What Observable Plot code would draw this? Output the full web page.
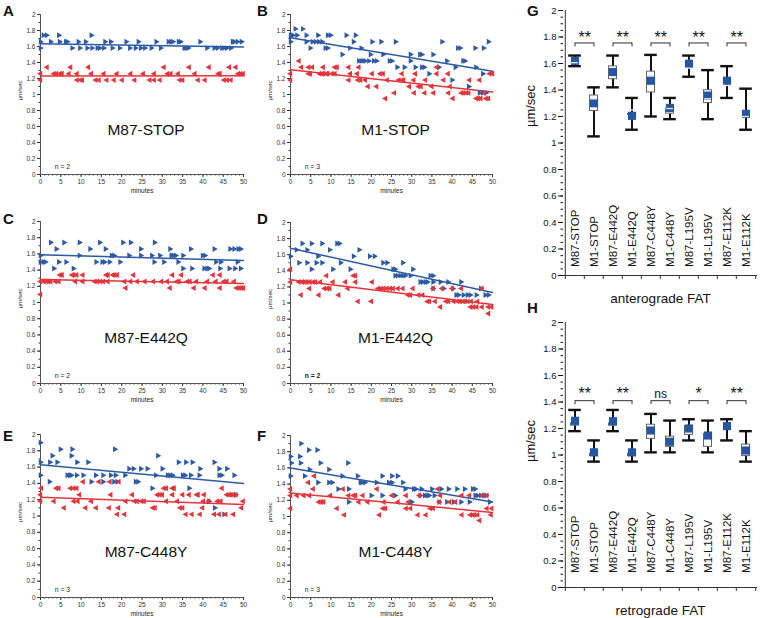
<!DOCTYPE html>
<html><head><meta charset="utf-8">
<script src="https://cdn.jsdelivr.net/npm/d3@7"></script>
<script src="https://cdn.jsdelivr.net/npm/@observablehq/plot@0.6"></script>
<style>
body{margin:0;background:#fff;font-family:"Liberation Sans",Arial,Helvetica,sans-serif;}
#fig{position:relative;width:760px;height:618px;overflow:hidden;background:#fff;}
.letter{position:absolute;font-weight:bold;font-size:15px;line-height:15px;color:#111;}
</style></head><body><div id="fig"></div>
<script>
// ---------- DATA: scatter panels, [speed level (µm/sec), minutes[]] ----------
const antA = [
 [1.74,[0.7,1.5,4.5,12.5]],
 [1.66,[0,2.5,4.7,6.2,6.6,9.3,11.1,15.9,17.3,21.1,24.1,28.5,31.5,32.1,32.6,34,34.5,39.3,47.3,47.7,48.5,49.5]],
 [1.58,[0,7.8,9.7,11.5,12.7,14,14.6,15.6,17.7,19.5,22,23.4,24.7,25.7,27.3,29.6,35.4,35.9,36.4,41,42.8,43.6,44.7,45.2,45.9,46.9]]
];
const retA = [
 [1.34,[1.6,7.4,11.8,30.4,36.6,41.5,46.5,48.1]],
 [1.26,[0,3.3,3.9,4.8,5.3,7,9,12.5,15.6,18.8,22.2,25.3,28,31.3,32.1,33.9,38,43.8,44.2,48.7,49.3,49.9]],
 [1.18,[0,9,9.9,10.3,13.6,14.4,16.3,18.1,20.1,23.2,26.9,28,29.4,34.3,35,38.8,40.5,45.2,46,46.9]]
];
const antB = [
 [1.82,[1.2,3.0]],
 [1.74,[0,0.6,1.6,3.9,6.8,9.2,9.9,13.8,16.1]],
 [1.66,[0,3.9,5.4,6.2,7.0,7.8,15.6,20.2,22.4,26,37.5,49]],
 [1.58,[4.9,8.6,9.2,14.7,17.5,41.4,42,45.7,47.8]],
 [1.50,[12.8,19.8,22.9,29.7,32,32.5,35.3]],
 [1.42,[16.9,17.5,18,18.5,19.4,20.6,21.3,24.5,25.1,29.7,38.7,42.7,43.2]],
 [1.34,[26.4,28.2,30.9,32.5,33.1,36.7,40.8,45.9]],
 [1.26,[34.3,47.6]],
 [1.18,[40]],
 [1.10,[44.1]],
 [1.02,[46.8,47.6,48.4]]
];
const retB = [
 [1.42,[2.1]],
 [1.34,[2.7,4.5,5.4,8.1,11,11.5,14.4,16.9,36.2]],
 [1.26,[0,4.5,4.9,7.2,7.8,8.2,8.9,9.2,10.3,11,14.8,16.5,20.2,22.2,22.9,27.6,30.9,36.2,39,49.3,50]],
 [1.18,[0,14.4,16.7,17.3,18.5,23.9,26.8,27.6,28,30.5,33.4,37.9,44.3,46.8]],
 [1.10,[19.2,21.3,29.4,31.7,32.3,35,39.5]],
 [1.02,[25.7,30.6,33.2,35.4,39.1,42.3,42.8,43.5,44.1,48]],
 [0.95,[23.5,40.2,46,46.5,47.1,48.4,49]]
];
const antC = [
 [1.74,[2.5,5.8,9.6,14.6,20.3,22.2,28.1]],
 [1.66,[3.9,12.2,16,24.7,31.9,37,42.8,46.7,47.7,48.7,49.3]],
 [1.58,[0,9.6,17.5,18.1,21.8,24.7,27.4,29.4,32.2,32.7,33.3,35.1,39.9,40.5]],
 [1.50,[0,0.7,1.2,4.5,6.3,13.7,15.2,15.8,17,19.6,28,30.4,33.9,43.2,44.4,48.5]],
 [1.42,[3.3,8.1,35.1,37.3,40.3,41,41.5,44.2,46.5,47.9,49.3]]
];
const retC = [
 [1.34,[4.8,5.3,7.8,8.2,8.9,10.4,16.2,16.6,17.8,18.3,18.9,22.9,32.5,34.7,42.5,44.2]],
 [1.26,[0,0.8,1.4,1.9,2.5,3.7,4.5,8.6,10.4,13.4,14,14.8,15.5,16.6,20.7,22.2,23.8,25.7,27.8,29.8,31.2,33.6,34.1,36.2,36.8,38.4,41.1,43.2,45.2,45.9,47.7]],
 [1.18,[21,31.9,37.8,40.5,44.2,48.3,48.9,49.5,50]],
 [1.10,[0]]
];
const antD = [
 [1.74,[2.9,5.2,7.8,11.5,12.1]],
 [1.66,[1.5,4.1,9.7,17]],
 [1.58,[0,6.8,15.6,19.6,20.8]],
 [1.50,[2.1,4.1,6.4,7.8,12.4,22.9,23.9,27.8]],
 [1.42,[5.2,10.5,14.8,25.4,25.9,30.3]],
 [1.34,[25.9,26.5,27.2,27.8,28.4,29.7,34.6,35.3]],
 [1.26,[32.1,32.7,33.4,33.9,35.3,37.1,39,42.2]],
 [1.18,[35.3,37.9,40.2,47.1]],
 [1.10,[41,41.6,42.8,43.8,44.5,46,48.2,49]]
];
const retD = [
 [1.42,[0]],
 [1.34,[8.9,15.6,16.1]],
 [1.26,[0,2.1,2.9,3.5,4.1,4.8,5.6,6.2,7.4,10.5,13.6,16.1,20.2]],
 [1.18,[4.7,8.4,9.1,9.7,14.2,21.7,22.4,23.1,23.9,24.7,25.4,26.6,27.8,30.3,35.3,37.5,40,42.3,47.4]],
 [1.10,[2.6,7,11.9,29.1,29.7,31.7,32.7]],
 [1.02,[16.7,20,33.9,34.4,35.8,38.5,39.1,40.4,41.4,42,42.7,43.2,43.9,44.7,46.3]],
 [0.95,[37.1,44.6,45.3,46.1,47.4,49,49.8]],
 [0.87,[49]]
];
const antE = [
 [1.90,[0]],
 [1.82,[4.9,7.8,18.3]],
 [1.74,[2.9,7.6,28.9]],
 [1.66,[0,2.3,4.1,9,11.7,34,35.8,37.4,42.8]],
 [1.58,[21.8,22.9,24.7,26.3,30,39.3,44,45.9]],
 [1.50,[0,6.6,7.2,7.6,8.9,10.5,13.6,15.4,17.3,18.5,20.8,28.4,31.3,31.9,32.5,35,35.6,37,39.1,44,44.6,47.7]],
 [1.42,[2.2,12.5,15.4,18.1,18.9,23.4,24]],
 [1.34,[27.5,36.6]],
 [1.26,[48.1]],
 [1.18,[41.5]],
 [1.10,[42.9]],
 [1.02,[45.2]]
];
const retE = [
 [1.42,[10.5,14.4,17.1,19.3]],
 [1.34,[0.2,3.9,4.5,7.4,8.2,8.9,30.4,31,32.5,32.9,44.7]],
 [1.26,[0,9.6,17.3,22.6,28.8,29.4,30,32.5,35,36.6,38.5,38.8,40.3,45.9,46.5,46.9,47.5,48.1]],
 [1.18,[0,3.3,8.2,9.2,12.5,21,23.2,23.8,24.9,25.5,31,33.7,40.1,41.4,43.6,44.4,49.9]],
 [1.10,[5.8,11.1,13.7,16.9,19.2,27.7,28.2,34.4,35,39.9,49.5]],
 [1.02,[18.9,20.7,35.8,37.3,39.3,42.8,44,45.6,47.5]]
];
const antF = [
 [1.90,[2.6]],
 [1.82,[4.5,6.6]],
 [1.74,[0,2.3]],
 [1.66,[0.2,2.5,7.4,14.2]],
 [1.58,[4.7,9.5]],
 [1.50,[0,3.5,12.8,16.6,22.7,25.1,26.5]],
 [1.42,[6.8,9.5,10.3,17.3,17.7,18.4,21.3,24.3,25.1,27.8]],
 [1.34,[11.8,14.4,28.4,30.5,31,32.4,35,37.3,39.1,41.2,43.1,45.1,45.7]],
 [1.26,[20,22.7,25.9,32.1,33.2,33.8,34.3,35.6,45.7,46.3,47.1,47.8,48.4]],
 [1.18,[14.4,30,36.8,38.7,40.4,42.2,44.3,49.3]]
];
const retF = [
 [1.50,[5.9]],
 [1.42,[4.4]],
 [1.34,[0,5.6,13,21.4,36.5]],
 [1.26,[0,1.6,3.3,4.7,9.9,14.4,15.6,16.1,17.9,25.1,28.6,31.9,37.1,42.4,44.3,47.5,48.6]],
 [1.18,[7,7.6,8.2,16.9,19.1,23.1,26.6,29.2,36.8,39.4,40.8]],
 [1.10,[0,11.5,22.9,23.5,28.6,29.7,34.6,35.3,48.6,49.8]],
 [1.02,[13.3,22,31.5,33.5,42.4,44.5,45.1,45.6,46.3,49.6]],
 [0.95,[46.8]]
];
// fitted lines: value at 0 min and at 50 min
const fitMinutes = [0, 50];
const fitAntA = [1.635, 1.595], fitRetA = [1.23, 1.235];
const fitAntB = [1.71, 1.29],   fitRetB = [1.31, 1.03];
const fitAntC = [1.59, 1.52],   fitRetC = [1.285, 1.235];
const fitAntD = [1.68, 1.13],   fitRetD = [1.29, 0.98];
const fitAntE = [1.63, 1.40],   fitRetE = [1.23, 1.14];
const fitAntF = [1.60, 1.18],   fitRetF = [1.29, 1.05];
const panelNames = ["M87-STOP","M1-STOP","M87-E442Q","M1-E442Q","M87-C448Y","M1-C448Y"];
const panelN = ["n = 2","n = 3","n = 2","n = 2","n = 3","n = 3"];

// ---------- DATA: box panels ----------
const cats = ["M87-STOP","M1-STOP","M87-E442Q","M1-E442Q","M87-C448Y","M1-C448Y","M87-L195V","M1-L195V","M87-E112K","M1-E112K"];
const gLo   = [1.58, 1.05, 1.42, 1.10, 1.20, 1.18, 1.50, 1.18, 1.34, 1.10];
const gQ1   = [1.58, 1.20, 1.44, 1.17, 1.34, 1.18, 1.56, 1.26, 1.43, 1.18];
const gQ3   = [1.66, 1.40, 1.62, 1.26, 1.58, 1.30, 1.64, 1.44, 1.50, 1.26];
const gHi   = [1.66, 1.42, 1.66, 1.34, 1.665, 1.34, 1.66, 1.55, 1.58, 1.41];
const gMean = [1.62, 1.30, 1.535, 1.205, 1.47, 1.265, 1.598, 1.358, 1.47, 1.22];
const gMed  = [1.606, 1.334, 1.50, 1.25, 1.51, 1.26, 1.565, 1.334, 1.434, 1.20];
const gSig  = ["**","**","**","**","**"];
const hLo   = [1.18, 0.95, 1.18, 0.95, 1.02, 1.02, 1.11, 1.02, 1.11, 0.95];
const hQ1   = [1.18, 0.95, 1.18, 0.95, 1.08, 1.02, 1.11, 1.02, 1.18, 0.95];
const hQ3   = [1.28, 1.05, 1.28, 1.05, 1.27, 1.18, 1.26, 1.20, 1.26, 1.12];
const hHi   = [1.34, 1.11, 1.34, 1.11, 1.31, 1.26, 1.27, 1.26, 1.27, 1.18];
const hMean = [1.258, 1.02, 1.255, 1.02, 1.185, 1.10, 1.20, 1.147, 1.218, 1.034];
const hSig  = ["**","**","ns","*","**"];
const yTickVals = d3.range(0, 11).map(i => i / 5);

// ---------- DRAWING ----------
const BLUE = "#2d5aa5", RED = "#e3353b", BOXBLUE = "#2456a2";
const FONT = "'Liberation Sans', Arial, Helvetica, sans-serif";
const fig = document.getElementById("fig");
const fmt = d => String(+(+d).toFixed(2));
function place(node, left, top) {
  node.style.position = "absolute";
  node.style.left = left + "px";
  node.style.top = top + "px";
  fig.appendChild(node);
}
const expand = levels => levels.flatMap(([v, ms]) => ms.map(m => ({m, v})));
const fitRows = f => f.map((v, i) => ({m: fitMinutes[i], v}));

function scatter({x0, y0, w, h, ant, ret, fitAnt, fitRet, name, n, nBold}) {
  const mL = 34, mR = 8, mT = 6, mB = 24;
  const chart = Plot.plot({
    width: w + mL + mR, height: h + mT + mB,
    marginLeft: mL, marginRight: mR, marginTop: mT, marginBottom: mB,
    style: {fontFamily: FONT, fontSize: "6.5px", color: "#333", background: "transparent", overflow: "visible"},
    x: {domain: [0, 50]},
    y: {domain: [0, 2]},
    marks: [
      Plot.axisX({ticks: d3.range(0, 51, 5), tickSize: 3, tickPadding: 1.5, tickFormat: fmt, label: null}),
      Plot.axisX({ticks: d3.range(0, 51, 1), tickSize: 1.5, tickFormat: () => "", label: null}),
      Plot.axisY({ticks: yTickVals, tickSize: 3, tickPadding: 2, tickFormat: fmt, label: null}),
      Plot.axisY({ticks: d3.range(0, 21).map(i => i / 10), tickSize: 1.5, tickFormat: () => "", label: null}),
      Plot.ruleX([0], {stroke: "#555"}),
      Plot.ruleY([0], {stroke: "#555"}),
      Plot.text(["minutes"], {frameAnchor: "bottom", dy: 16.5, lineAnchor: "middle", fontSize: 6.5, fill: "#222"}),
      Plot.text(["µm/sec"], {frameAnchor: "left", dx: -20, dy: -4, rotate: -90, textAnchor: "middle", lineAnchor: "middle", fontSize: 6.2, fill: "#222"}),
      Plot.line(fitRows(fitAnt), {x: "m", y: "v", stroke: BLUE, strokeWidth: 1.5}),
      Plot.line(fitRows(fitRet), {x: "m", y: "v", stroke: RED, strokeWidth: 1.5}),
      Plot.dot(expand(ant), {x: "m", y: "v", symbol: "triangle", rotate: 90, r: 2.2, fill: BLUE}),
      Plot.dot(expand(ret), {x: "m", y: "v", symbol: "triangle", rotate: -90, r: 2.2, fill: RED}),
      Plot.text([name], {x: 26, y: 0.56, fontSize: 15.5, fill: "#111"}),
      Plot.text([n], {x: 3.5, y: 0.09, textAnchor: "start", fontSize: 6.8, fill: "#222", fontWeight: nBold ? "bold" : "normal"})
    ]
  });
  place(chart, x0 - mL, y0 - mT);
}

function boxPanel({x0, y0, w, h, lo, q1, q3, hi, mean, med, sig, bracketY, sigY, catY, title, labelDy}) {
  const mL = 44, mR = 3, mT = 8, mB = 36;
  const rows = cats.map((c, i) => ({c, lo: lo[i], q1: q1[i], q3: q3[i], hi: hi[i], mean: mean[i], med: med ? med[i] : null}));
  const pairs = sig.map((s, k) => ({a: cats[2 * k], b: cats[2 * k + 1], s}));
  const ends = pairs.flatMap(p => [p.a, p.b]);
  const bw = w / cats.length;
  const boxInset = (bw - 8.4) / 2;
  const chart = Plot.plot({
    width: w + mL + mR, height: h + mT + mB,
    marginLeft: mL, marginRight: mR, marginTop: mT, marginBottom: mB,
    style: {fontFamily: FONT, fontSize: "9.5px", color: "#111", background: "transparent", overflow: "visible"},
    x: {type: "band", domain: cats, padding: 0, axis: null},
    y: {domain: [0, 2]},
    marks: [
      Plot.axisY({ticks: yTickVals, tickSize: 5, tickPadding: 2, tickFormat: fmt, label: null, fontSize: 9.5}),
      Plot.axisY({ticks: d3.range(0, 41).map(i => i / 20), tickSize: 2.5, tickFormat: () => "", label: null}),
      Plot.ruleY([0], {stroke: "#333"}),
      Plot.ruleX([cats[0]], {x: d => d, y1: 0, y2: 2, dx: -bw / 2, stroke: "#333"}),
      Plot.ruleX(cats, {x: d => d, y1: 0, y2: -0.03, dx: -bw / 2, stroke: "#333"}),
      Plot.ruleX([cats[cats.length - 1]], {x: d => d, y1: 0, y2: -0.03, dx: bw / 2, stroke: "#333"}),
      Plot.ruleX(rows, {x: "c", y1: "lo", y2: "hi", stroke: "#111", strokeWidth: 2}),
      Plot.tickY(rows, {x: "c", y: "hi", stroke: "#111", strokeWidth: 2.4, inset: 3.2}),
      Plot.tickY(rows, {x: "c", y: "lo", stroke: "#111", strokeWidth: 2.4, inset: 3.2}),
      Plot.barY(rows, {x: "c", y1: "q1", y2: "q3", fill: "white", stroke: "#666", strokeWidth: 1, inset: boxInset}),
      Plot.dot(rows, {x: "c", y: "mean", symbol: "square", r: 4.6, fill: BOXBLUE}),
      med ? Plot.tickY(rows, {x: "c", y: "med", stroke: "#e4ecf7", strokeWidth: 1.3, inset: boxInset + 0.6}) : null,
      Plot.text(rows, {x: "c", y: catY, text: "c", rotate: -90, textAnchor: "start", lineAnchor: "middle", fontSize: 11.5, fill: "#111"}),
      Plot.link(pairs, {x1: "a", x2: "b", y1: bracketY, y2: bracketY, stroke: "#333", strokeWidth: 1}),
      Plot.ruleX(ends, {x: d => d, y1: bracketY, y2: bracketY - 0.03, stroke: "#333", strokeWidth: 1}),
      Plot.text(pairs, {x: "a", y: sigY, text: "s", dx: bw / 2, lineAnchor: "middle", fontSize: d => d.s === "ns" ? 12 : 16, fill: "#111"}),
      Plot.text([title], {frameAnchor: "bottom", dy: 23, lineAnchor: "middle", fontSize: 13.5, fill: "#111"}),
      Plot.text(["µm/sec"], {frameAnchor: "left", dx: -33, dy: labelDy, rotate: -90, textAnchor: "middle", lineAnchor: "middle", fontSize: 13, fill: "#111"})
    ]
  });
  place(chart, x0 - mL, y0 - mT);
}

scatter({x0: 40, y0: 14, w: 203, h: 160, ant: antA, ret: retA, fitAnt: fitAntA, fitRet: fitRetA, name: panelNames[0], n: panelN[0]});
scatter({x0: 290, y0: 14, w: 202, h: 160, ant: antB, ret: retB, fitAnt: fitAntB, fitRet: fitRetB, name: panelNames[1], n: panelN[1]});
scatter({x0: 40, y0: 221, w: 203, h: 162, ant: antC, ret: retC, fitAnt: fitAntC, fitRet: fitRetC, name: panelNames[2], n: panelN[2]});
scatter({x0: 290, y0: 222, w: 202, h: 161, ant: antD, ret: retD, fitAnt: fitAntD, fitRet: fitRetD, name: panelNames[3], n: panelN[3], nBold: true});
scatter({x0: 40, y0: 434, w: 203, h: 163, ant: antE, ret: retE, fitAnt: fitAntE, fitRet: fitRetE, name: panelNames[4], n: panelN[4]});
scatter({x0: 290, y0: 435, w: 202, h: 162, ant: antF, ret: retF, fitAnt: fitAntF, fitRet: fitRetF, name: panelNames[5], n: panelN[5]});

boxPanel({x0: 563, y0: 10, w: 194, h: 265, lo: gLo, q1: gQ1, q3: gQ3, hi: gHi, mean: gMean, med: gMed, sig: gSig,
  bracketY: 1.755, sigY: 1.79, catY: 0.065, title: "anterograde FAT", labelDy: -37});
boxPanel({x0: 563, y0: 322, w: 194, h: 265, lo: hLo, q1: hQ1, q3: hQ3, hi: hHi, mean: hMean, med: null, sig: hSig,
  bracketY: 1.41, sigY: 1.46, catY: 0.11, title: "retrograde FAT", labelDy: -14});

// panel letters
[["A", 3, 3], ["B", 257, 3], ["C", 3, 211], ["D", 257, 211], ["E", 3, 428], ["F", 257, 428], ["G", 527, 3], ["H", 527, 300]]
  .forEach(([t, x, y]) => {
    const d = document.createElement("div");
    d.className = "letter"; d.textContent = t;
    d.style.left = x + "px"; d.style.top = y + "px";
    fig.appendChild(d);
  });
</script>
</body></html>
